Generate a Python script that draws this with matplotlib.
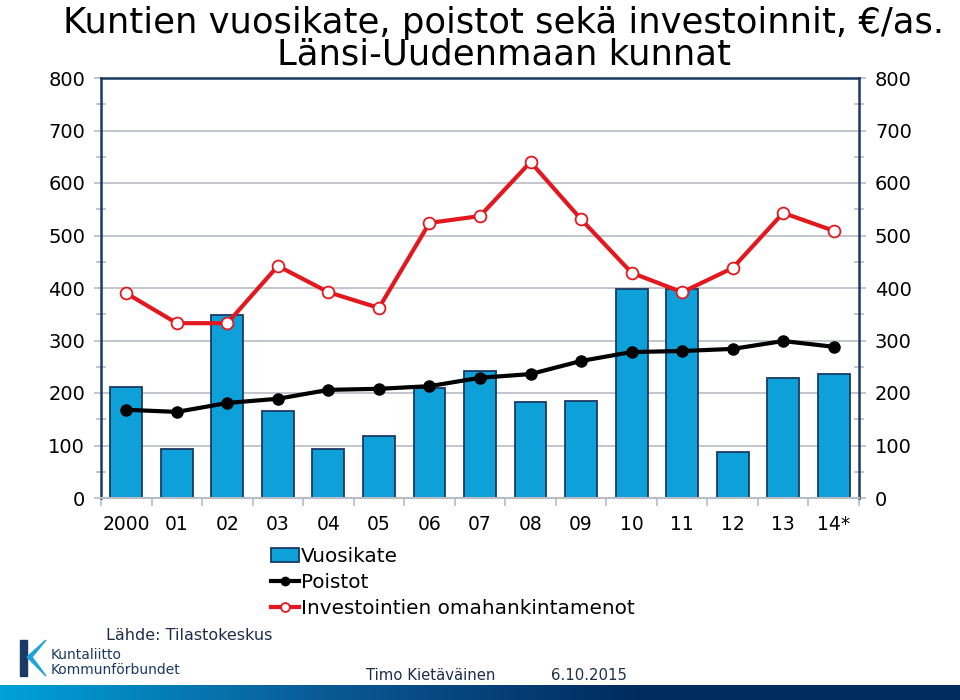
import numpy as np
import matplotlib.pyplot as plt
from matplotlib.ticker import MultipleLocator
from matplotlib.patches import Polygon, Rectangle
from matplotlib.colors import LinearSegmentedColormap

# data
vuodet = ["2000", "01", "02", "03", "04", "05", "06", "07", "08", "09",
          "10", "11", "12", "13", "14*"]
vuosikate = [211, 93, 349, 165, 93, 118, 210, 242, 183, 185, 398, 398, 88, 229, 236]
poistot = [168, 164, 181, 189, 206, 208, 213, 229, 236, 261, 278, 280, 284, 299, 288]
investoinnit = [390, 333, 333, 442, 392, 362, 524, 537, 640, 531, 429, 392, 438, 543, 509]

NAVY = "#1b3a63"
BAR = "#0ea0d8"
RED = "#e3181f"
GRID = "#b8bcc4"

plt.rcParams['font.family'] = ['DejaVu Sans']

fig = plt.figure(figsize=(9.6, 7.0), dpi=100)
ax = fig.add_axes([101/960, 1 - 498/700, (859-101)/960, (498-78)/700])

x = np.arange(len(vuodet))
b = ax.bar(x, vuosikate, width=0.63, color=BAR, edgecolor=NAVY, linewidth=1.3,
           label="Vuosikate", zorder=2)
p, = ax.plot(x, poistot, color="black", lw=3, marker="o", ms=8,
             label="Poistot", zorder=3)
r, = ax.plot(x, investoinnit, color=RED, lw=3, marker="o", ms=8.5,
             markerfacecolor="white", markeredgecolor=RED, markeredgewidth=1.3,
             label="Investointien omahankintamenot", zorder=4)

ax.set_xlim(-0.5, len(vuodet) - 0.5)
ax.set_ylim(0, 800)
ax.yaxis.set_major_locator(MultipleLocator(100))
ax.yaxis.set_minor_locator(MultipleLocator(50))
ax.grid(axis="y", which="major", color=GRID, lw=1.2, zorder=0)
ax.set_axisbelow(True)

ax.set_xticks(x)
ax.set_xticklabels(vuodet, fontsize=13.5)
ax.set_xticks(np.arange(-0.5, len(vuodet)), minor=True)
ax.tick_params(axis="x", which="major", length=0, pad=12)
ax.tick_params(axis="x", which="minor", length=6, color=GRID, width=1.2)

ax.tick_params(axis="y", which="major", labelsize=14, length=5, color=GRID,
               width=1.2, pad=6.5, labelright=True, right=True)
ax.tick_params(axis="y", which="minor", length=7, direction="inout",
               color=GRID, width=1.2, right=True)

for s in ["left", "top", "right"]:
    ax.spines[s].set_color(NAVY)
    ax.spines[s].set_linewidth(1.8)
ax.spines["bottom"].set_color(GRID)
ax.spines["bottom"].set_linewidth(1.5)

fig.text(0.525, 0.992, "Kuntien vuosikate, poistot sekä investoinnit, €/as.\nLänsi-Uudenmaan kunnat",
         ha="center", va="top", fontsize=25.5, linespacing=0.93)

fig.legend([b, p, r], ["Vuosikate", "Poistot", "Investointien omahankintamenot"],
           loc="upper left", bbox_to_anchor=(271/960, 1 - 547/700),
           frameon=False, fontsize=14.4, handlelength=1.4, handletextpad=0.1,
           labelspacing=0.35, borderpad=0, borderaxespad=0, markerscale=0.75)

fig.text(106/960, 1 - 635/700, "Lähde: Tilastokeskus", fontsize=11.5,
         color="#1f2d4a", va="center")
fig.text(366/960, 1 - 675/700, "Timo Kietäväinen", fontsize=10.7,
         color="#1f2d4a", va="center")
fig.text(551/960, 1 - 675/700, "6.10.2015", fontsize=10.7,
         color="#1f2d4a", va="center")

# logo
fig.patches.append(Rectangle((20/960, 1 - 676/700), 7/960, 36/700,
                             transform=fig.transFigure, color=NAVY))
fig.patches.append(Polygon([(27/960, 1 - 657/700), (46/960, 1 - 640/700),
                            (32/960, 1 - 657/700), (46/960, 1 - 676/700)],
                           closed=True, transform=fig.transFigure, color="#1fa3d8"))
fig.text(51/960, 1 - 655/700, "Kuntaliitto", fontsize=10, color=NAVY,
         va="center")
fig.text(51/960, 1 - 670/700, "Kommunförbundet", fontsize=10, color=NAVY,
         va="center")

# gradient bar at bottom
grad = np.linspace(0, 1, 256).reshape(1, -1)
gax = fig.add_axes([0, 0, 1, 15/700])
cmap = LinearSegmentedColormap.from_list("band", ["#00a2d9", "#0a5a96", "#002b5e", "#002b5e"])
gax.imshow(grad, aspect="auto", cmap=cmap)
gax.axis("off")

fig.savefig("out.png", dpi=100)
